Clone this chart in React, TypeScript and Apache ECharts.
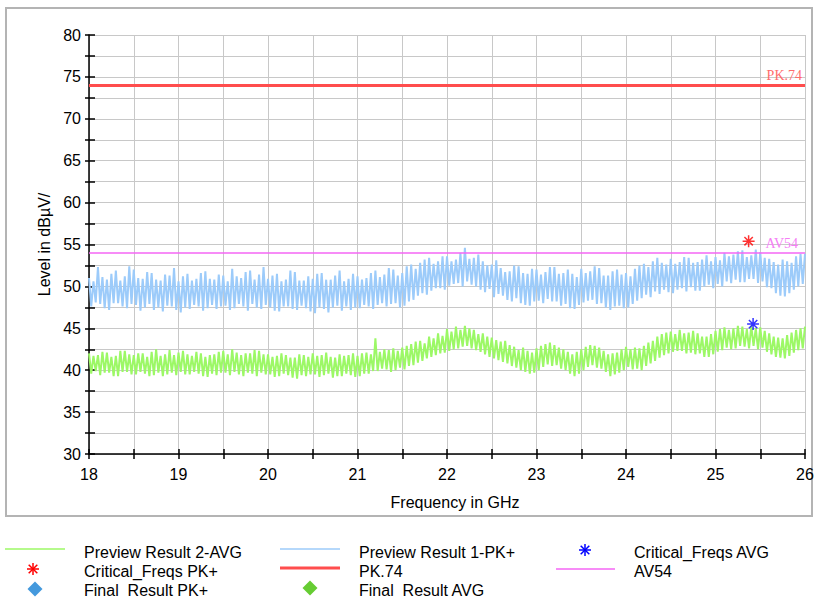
import React, { useEffect, useRef } from "react";
import * as echarts from "echarts";

const FONT = 'Arial, "Liberation Sans", sans-serif';

// frequency grid (GHz), 0.05 GHz steps from 18 to 26
const F_START = 18;
const F_STEP = 0.05;

// Preview Result 1-PK+ : upper / lower envelope of the trace at each 0.05 GHz step (dBµV)
const pkHi = [
  51.0, 50.6, 52.3, 51.1, 50.8, 51.5, 51.9, 50.7, 51.2, 52.4, 52.0, 51.0, 50.9, 51.7, 51.6, 50.8, 50.7, 51.4, 51.3, 52.2,
  50.6, 51.2, 51.5, 50.7, 50.9, 51.6, 51.8, 50.9, 50.8, 51.4, 51.3, 50.6, 52.1, 51.2, 51.0, 51.7, 51.9, 50.8, 51.4, 52.3,
  50.9, 51.3, 51.5, 50.6, 50.8, 51.9, 51.7, 50.7, 50.7, 51.2, 50.9, 51.5, 51.6, 50.8, 50.8, 51.3, 51.9, 50.6, 50.9, 51.5,
  51.2, 50.8, 51.0, 51.6, 51.9, 51.1, 51.4, 52.2, 52.0, 51.3, 51.6, 52.4, 52.6, 52.1, 52.8, 53.2, 53.4, 52.7, 53.0, 53.6,
  53.6, 53.0, 53.2, 54.0, 54.6, 53.3, 53.4, 53.8, 53.0, 52.5, 52.6, 53.1, 52.2, 51.7, 51.8, 52.5, 52.4, 51.6, 51.5, 52.1,
  52.0, 51.4, 51.7, 52.3, 52.3, 51.5, 51.6, 52.0, 51.5, 51.1, 52.1, 51.6, 51.8, 52.4, 52.2, 51.3, 51.3, 51.8, 52.0, 51.4,
  51.6, 51.2, 52.1, 52.5, 52.7, 52.3, 53.0, 53.4, 52.8, 52.6, 53.3, 52.7, 52.9, 53.5, 53.4, 52.8, 52.9, 53.2, 53.7, 53.0,
  53.5, 53.1, 54.0, 53.6, 53.8, 54.2, 54.3, 53.5, 53.7, 54.4, 54.1, 53.4, 53.3, 52.9, 52.6, 53.2, 53.0, 52.8, 53.6, 53.9,
  53.9,
];
const pkLo = [
  47.6, 48.1, 47.9, 47.4, 47.2, 48.0, 48.0, 47.6, 47.4, 47.9, 47.8, 47.1, 47.5, 47.9, 47.2, 47.5, 47.0, 47.7, 47.6, 47.2,
  46.9, 47.5, 47.3, 47.8, 47.6, 47.1, 47.4, 47.8, 47.3, 47.6, 47.7, 47.2, 47.4, 47.9, 47.6, 47.1, 47.9, 47.5, 47.3, 47.8,
  47.5, 47.1, 47.0, 47.6, 47.6, 47.3, 47.2, 47.7, 47.4, 47.0, 46.8, 47.5, 47.3, 46.9, 47.5, 47.7, 47.1, 47.6, 47.2, 47.5,
  47.4, 47.8, 47.6, 47.3, 47.8, 48.0, 47.6, 47.9, 48.0, 47.5, 47.7, 48.2, 48.4, 48.9, 49.2, 49.0, 49.5, 49.8, 49.8, 49.6,
  50.1, 50.3, 50.4, 50.0, 50.6, 50.2, 50.0, 49.6, 49.3, 49.7, 48.7, 49.1, 48.9, 48.4, 48.2, 48.6, 48.0, 47.8, 47.7, 48.2,
  48.3, 48.0, 48.5, 48.2, 48.2, 47.7, 47.9, 47.4, 47.3, 47.8, 48.1, 48.3, 48.4, 47.9, 48.0, 47.5, 47.2, 47.6, 47.7, 47.4,
  47.5, 47.9, 48.3, 48.6, 49.0, 48.7, 49.4, 49.1, 49.6, 49.3, 49.2, 49.6, 49.8, 49.4, 49.9, 49.5, 49.5, 50.0, 50.2, 49.8,
  50.3, 50.0, 50.6, 50.4, 50.8, 50.5, 50.5, 50.9, 50.9, 50.4, 50.6, 49.9, 49.8, 49.2, 48.9, 48.8, 49.2, 49.6, 50.0, 50.3,
  50.6,
];

// Preview Result 2-AVG : upper / lower envelope (dBµV)
const avHi = [
  42.0, 41.7, 41.8, 42.2, 42.1, 41.6, 41.7, 42.3, 42.3, 41.9, 41.8, 42.0, 42.0, 41.6, 42.2, 42.5, 41.7, 41.9, 42.4, 41.8,
  42.1, 42.3, 41.9, 41.7, 42.2, 42.0, 41.6, 41.8, 41.9, 42.2, 42.3, 41.9, 42.5, 42.1, 41.8, 42.0, 42.0, 42.4, 42.3, 41.9,
  41.9, 41.6, 41.7, 42.0, 41.8, 41.5, 41.5, 41.9, 41.8, 41.6, 42.0, 41.7, 41.8, 42.1, 41.6, 41.5, 41.9, 41.7, 41.8, 42.0,
  41.7, 42.0, 42.1, 41.9, 43.8, 42.2, 42.5, 42.4, 42.6, 42.3, 42.7, 42.9, 43.1, 43.4, 43.5, 43.2, 44.0, 43.8, 44.4, 44.1,
  44.9, 44.6, 45.2, 44.8, 45.3, 45.0, 44.8, 44.3, 44.4, 44.0, 43.9, 43.6, 43.4, 43.5, 43.0, 42.8, 42.4, 42.7, 42.3, 42.1,
  42.6, 42.9, 43.1, 43.3, 43.0, 42.7, 42.5, 42.2, 41.9, 42.2, 42.5, 42.8, 43.0, 42.9, 42.7, 42.3, 41.9, 42.0, 42.1, 42.5,
  42.8, 42.5, 42.7, 42.6, 42.9, 43.3, 43.5, 44.0, 44.3, 44.5, 44.6, 44.3, 44.8, 44.4, 44.5, 44.7, 44.4, 44.0, 44.0, 44.3,
  44.7, 44.9, 45.1, 44.8, 45.0, 45.3, 45.2, 44.9, 45.3, 45.0, 45.1, 44.7, 44.4, 44.0, 43.9, 43.8, 44.2, 44.5, 44.8, 45.0,
  45.2,
];
const avLo = [
  39.6, 39.9, 39.4, 39.7, 39.7, 39.3, 39.3, 39.8, 39.8, 39.5, 39.5, 39.8, 39.6, 39.3, 39.4, 39.7, 39.3, 39.5, 39.7, 39.4,
  39.8, 39.5, 39.5, 39.8, 39.6, 39.3, 39.2, 39.6, 39.4, 39.7, 39.7, 39.4, 39.8, 39.5, 39.3, 39.7, 39.6, 39.3, 39.7, 39.5,
  39.5, 39.2, 39.3, 39.6, 39.4, 39.1, 39.0, 39.4, 39.3, 39.5, 39.5, 39.2, 39.4, 39.6, 39.1, 39.3, 39.3, 39.6, 39.4, 39.2,
  39.3, 39.6, 39.6, 39.9, 39.9, 40.2, 40.1, 39.8, 40.0, 40.3, 40.1, 40.5, 40.6, 40.9, 41.1, 41.4, 41.6, 41.8, 42.0, 42.1,
  42.3, 42.5, 42.6, 42.8, 42.9, 42.6, 42.4, 42.2, 41.9, 41.6, 41.4, 41.2, 41.0, 40.8, 40.5, 40.3, 40.0, 39.8, 39.6, 39.7,
  40.0, 40.4, 40.7, 40.5, 40.6, 40.2, 40.0, 39.6, 39.3, 39.6, 40.0, 40.4, 40.6, 40.3, 40.2, 39.8, 39.3, 39.5, 39.7, 40.0,
  40.4, 40.1, 40.2, 40.0, 40.5, 40.8, 41.1, 41.5, 41.8, 42.0, 42.2, 42.3, 42.3, 42.0, 42.1, 41.9, 42.0, 41.6, 41.6, 41.9,
  42.2, 42.4, 42.7, 42.5, 42.6, 42.9, 42.8, 42.6, 42.9, 42.5, 42.7, 42.2, 41.9, 41.6, 41.5, 41.4, 41.7, 42.1, 42.4, 42.6,
  42.9,
];

// limits
const pkLimit = 74;
const avLimit = 54;

// critical frequencies [GHz, dBµV]
const critPk: [number, number][] = [[25.37, 55.4]];
const critAv: [number, number][] = [[25.42, 45.5]];

const yTicks = [30, 35, 40, 45, 50, 55, 60, 65, 70, 75, 80];
const xTicks = [18, 19, 20, 21, 22, 23, 24, 25, 26];

const C_BLUE = "#9ccbfa";
const C_GREEN = "#9cf866";
const C_RED = "#ff4d4d";
const C_MAG = "#f466f4";

const ASTERISK = "path://M6 0L6 12M0 6L12 6M1.8 1.8L10.2 10.2M10.2 1.8L1.8 10.2";

function zigzag(hi: number[], lo: number[]) {
  const out: [number, number][] = [];
  for (let i = 0; i < hi.length; i++) {
    const f = F_START + i * F_STEP;
    out.push([f, hi[i]]);
    if (i < hi.length - 1) out.push([f + F_STEP / 2, lo[i]]);
  }
  return out;
}

function asteriskGraphic(cx: number, cy: number, r: number, color: string) {
  const d = r * 0.72;
  const mk = (x1: number, y1: number, x2: number, y2: number) => ({
    type: "line",
    shape: { x1: cx + x1, y1: cy + y1, x2: cx + x2, y2: cy + y2 },
    style: { stroke: color, lineWidth: 1.5 },
  });
  return {
    type: "group",
    children: [mk(0, -r, 0, r), mk(-r, 0, r, 0), mk(-d, -d, d, d), mk(d, -d, -d, d)],
  };
}

function diamondGraphic(cx: number, cy: number, r: number, color: string) {
  return {
    type: "polygon",
    shape: { points: [[cx, cy - r], [cx + r, cy], [cx, cy + r], [cx - r, cy]] },
    style: { fill: color },
  };
}

function legendText(x: number, y: number, text: string) {
  return {
    type: "text",
    x,
    y,
    style: { text, fill: "#000", font: `16px ${FONT}`, textVerticalAlign: "middle" },
  };
}

function legendLine(x1: number, x2: number, y: number, color: string, w: number) {
  return { type: "line", shape: { x1, y1: y, x2, y2: y }, style: { stroke: color, lineWidth: w } };
}

export default function App() {
  const ref = useRef<HTMLDivElement>(null);
  useEffect(() => {
    if (!ref.current) return;
    const chart = echarts.init(ref.current, null, { renderer: "svg" });
    const axisLineStyle = { color: "#000", width: 1.5 };
    const option: any = {
      animation: false,
      backgroundColor: "#fff",
      grid: { left: 89, right: 16, top: 35, bottom: 144 },
      xAxis: [
        {
          type: "value",
          min: 18,
          max: 26,
          interval: 0.5,
          position: "bottom",
          axisLine: { show: true, onZero: false, lineStyle: axisLineStyle },
          axisTick: { show: true, length: 5, lineStyle: axisLineStyle },
          axisLabel: {
            margin: 12,
            color: "#000",
            fontSize: 16,
            fontFamily: FONT,
            formatter: (v: number) => (xTicks.includes(v) ? String(v) : ""),
          },
          splitLine: { show: true, lineStyle: { color: "#c8c8c8", width: 1 } },
          name: "Frequency in GHz",
          nameLocation: "middle",
          nameGap: 40,
          nameTextStyle: { color: "#000", fontSize: 16, fontFamily: FONT, padding: [0, 0, 0, 16] },
        },
        {
          type: "value",
          min: 18,
          max: 26,
          interval: 0.5,
          position: "bottom",
          axisLine: { show: false, onZero: false },
          axisTick: { show: true, inside: true, length: 5, lineStyle: axisLineStyle },
          axisLabel: { show: false },
          splitLine: { show: false },
        },
      ],
      yAxis: [
        {
          type: "value",
          min: 30,
          max: 80,
          interval: 2.5,
          position: "left",
          axisLine: { show: true, onZero: false, lineStyle: axisLineStyle },
          axisTick: { show: true, length: 4, lineStyle: axisLineStyle },
          axisLabel: {
            margin: 8,
            color: "#000",
            fontSize: 16,
            fontFamily: FONT,
            formatter: (v: number) => (yTicks.includes(v) ? String(v) : ""),
          },
          splitLine: { show: true, lineStyle: { color: "#c8c8c8", width: 1 } },
          name: "Level in dBµV/",
          nameLocation: "middle",
          nameGap: 36,
          nameTextStyle: { color: "#000", fontSize: 16, fontFamily: FONT },
        },
        {
          type: "value",
          min: 30,
          max: 80,
          interval: 2.5,
          position: "left",
          axisLine: { show: false, onZero: false },
          axisTick: { show: true, inside: true, length: 6, lineStyle: axisLineStyle },
          axisLabel: { show: false },
          splitLine: { show: false },
        },
      ],
      series: [
        {
          name: "Preview Result 1-PK+",
          type: "line",
          data: zigzag(pkHi, pkLo),
          showSymbol: false,
          symbol: "none",
          lineStyle: { color: C_BLUE, width: 2 },
          z: 2,
        },
        {
          name: "Preview Result 2-AVG",
          type: "line",
          data: zigzag(avHi, avLo),
          showSymbol: false,
          symbol: "none",
          lineStyle: { color: C_GREEN, width: 2 },
          z: 2,
        },
        {
          name: "PK.74",
          type: "line",
          data: [],
          z: 3,
          markLine: {
            silent: true,
            symbol: "none",
            data: [{ yAxis: pkLimit }],
            lineStyle: { color: C_RED, width: 3, type: "solid" },
            label: {
              show: true,
              position: "insideEndTop",
              formatter: "PK.74",
              color: "#ff6b6b",
              fontSize: 14,
              fontFamily: '"Liberation Serif", "DejaVu Serif", serif',
              distance: [3, 3],
            },
          },
        },
        {
          name: "AV54",
          type: "line",
          data: [],
          z: 3,
          markLine: {
            silent: true,
            symbol: "none",
            data: [{ yAxis: avLimit }],
            lineStyle: { color: C_MAG, width: 1.5, type: "solid" },
            label: {
              show: true,
              position: "insideEndTop",
              formatter: "AV54",
              color: "#f57ef5",
              fontSize: 14,
              fontFamily: '"Liberation Serif", "DejaVu Serif", serif',
              distance: [7, 2],
            },
          },
        },
        {
          name: "Critical_Freqs PK+",
          type: "scatter",
          data: critPk,
          symbol: ASTERISK,
          symbolSize: 12,
          itemStyle: { color: "#ff0000", borderColor: "#ff0000", borderWidth: 1.5 },
          z: 5,
        },
        {
          name: "Critical_Freqs AVG",
          type: "scatter",
          data: critAv,
          symbol: ASTERISK,
          symbolSize: 12,
          itemStyle: { color: "#0000ff", borderColor: "#0000ff", borderWidth: 1.5 },
          z: 5,
        },
      ],
      graphic: [
        {
          type: "rect",
          shape: { x: 6, y: 8, width: 806, height: 508 },
          style: { fill: "none", stroke: "#b4b4b4", lineWidth: 2 },
          z: -10,
          silent: true,
        },
        legendLine(5, 65, 549, C_GREEN, 1.5),
        legendText(84, 552, "Preview Result 2-AVG"),
        legendLine(280, 340, 549, C_BLUE, 1.5),
        legendText(359, 552, "Preview Result 1-PK+"),
        asteriskGraphic(585, 550, 6, "#0000ff"),
        legendText(634, 552, "Critical_Freqs AVG"),
        asteriskGraphic(33, 569, 6, "#ff0000"),
        legendText(84, 571, "Critical_Freqs PK+"),
        legendLine(280, 340, 568, C_RED, 3),
        legendText(359, 571, "PK.74"),
        legendLine(556, 615, 569, C_MAG, 1.5),
        legendText(634, 571, "AV54"),
        diamondGraphic(35, 589, 7.5, "#4499dd"),
        legendText(84, 590, "Final  Result PK+"),
        diamondGraphic(310, 588, 7.5, "#66cc33"),
        legendText(359, 590, "Final  Result AVG"),
      ],
    };
    chart.setOption(option);
    return () => chart.dispose();
  }, []);
  return (
    <div
      ref={ref}
      style={{ position: "fixed", left: 0, top: 0, width: 821, height: 598, background: "#fff" }}
    />
  );
}
